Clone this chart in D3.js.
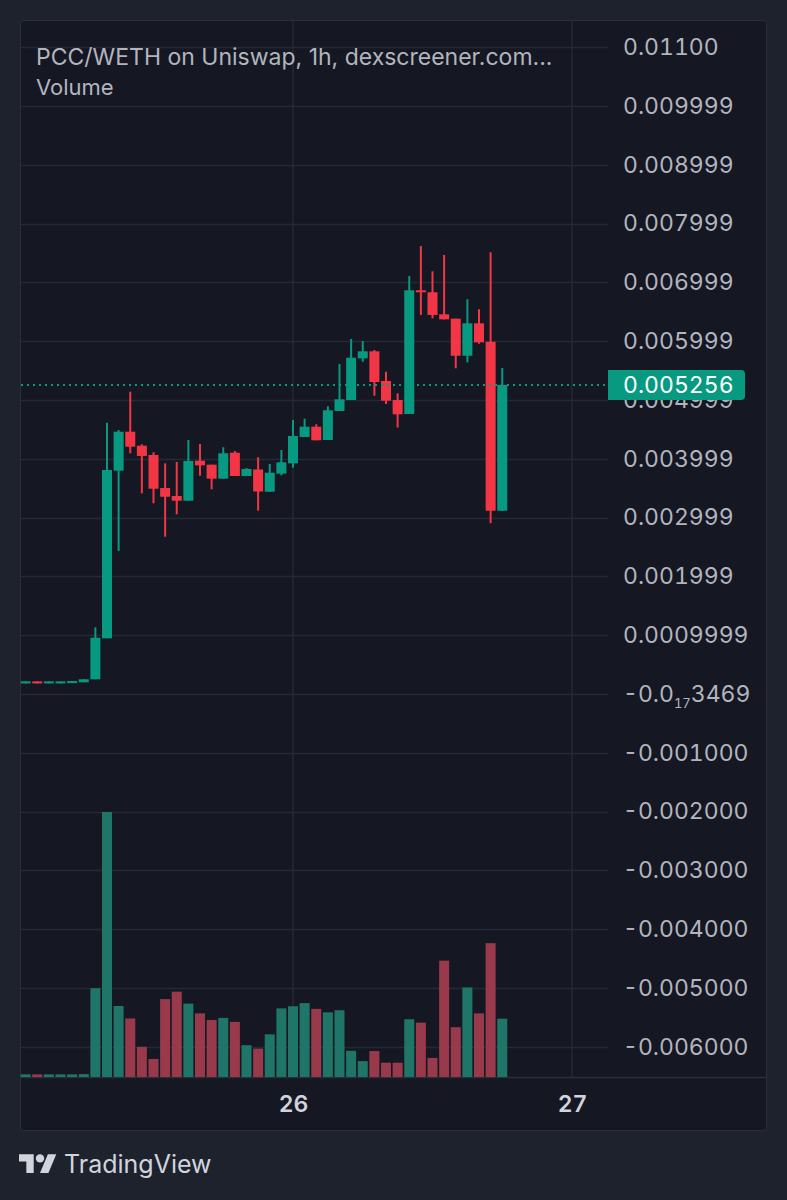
<!DOCTYPE html>
<html>
<head>
<meta charset="utf-8">
<script src="https://cdn.jsdelivr.net/npm/d3@7"></script>
<style>
  html, body { margin: 0; padding: 0; background: #1e222d; }
  svg { display: block; }
  text { font-family: "Inter", "Roboto", sans-serif; }
  .num { font-variant-numeric: tabular-nums; font-feature-settings: "tnum" 1; }
</style>
</head>
<body>
<div id="chart"></div>
<script>
// hourly candles, PCC/WETH, first one is 25th 01:00
var startHour = Date.UTC(2024, 5, 25, 1);

var opens = [0.000180, 0.000215, 0.000180, 0.000180, 0.000185, 0.000199, 0.000250, 0.000947, 0.003798, 0.004461,
  0.004223, 0.004065, 0.003503, 0.003367, 0.003287, 0.003968, 0.003900, 0.003662, 0.004104, 0.003707,
  0.003818, 0.003440, 0.003747, 0.003923, 0.004371, 0.004546, 0.004320, 0.004813, 0.005000, 0.005709,
  0.005828, 0.005323, 0.005000, 0.004762, 0.006866, 0.006832, 0.006457, 0.006383, 0.005753, 0.006304,
  0.005991, 0.003117];
var highs = [0.000215, 0.000215, 0.000215, 0.000215, 0.000220, 0.000255, 0.001134, 0.004614, 0.004490, 0.005141,
  0.004247, 0.004111, 0.003923, 0.003946, 0.004320, 0.004252, 0.003900, 0.004196, 0.004133, 0.003844,
  0.004026, 0.003912, 0.004150, 0.004660, 0.004682, 0.004587, 0.004893, 0.005612, 0.006037, 0.006003,
  0.005850, 0.005481, 0.005114, 0.007109, 0.007619, 0.007189, 0.007466, 0.006383, 0.006713, 0.006543,
  0.007512, 0.005544];
var lows = [0.000180, 0.000180, 0.000180, 0.000180, 0.000185, 0.000199, 0.000250, 0.000947, 0.002432, 0.004094,
  0.003413, 0.003243, 0.002675, 0.003056, 0.003287, 0.003713, 0.003481, 0.003662, 0.003707, 0.003707,
  0.003117, 0.003440, 0.003719, 0.003849, 0.004371, 0.004315, 0.004320, 0.004813, 0.005000, 0.005651,
  0.005073, 0.004932, 0.004532, 0.004762, 0.006446, 0.006389, 0.006372, 0.005539, 0.005641, 0.005957,
  0.002903, 0.003117];
var closes = [0.000215, 0.000180, 0.000215, 0.000215, 0.000220, 0.000250, 0.000957, 0.003810, 0.004461, 0.004206,
  0.004048, 0.003491, 0.003355, 0.003287, 0.003963, 0.003889, 0.003662, 0.004094, 0.003707, 0.003827,
  0.003444, 0.003764, 0.003940, 0.004388, 0.004546, 0.004315, 0.004825, 0.005012, 0.005719, 0.005828,
  0.005306, 0.004988, 0.004757, 0.006866, 0.006832, 0.006446, 0.006372, 0.005753, 0.006304, 0.005981,
  0.003117, 0.005256];
var volumes = [1.0, 1.0, 1.0, 1.0, 1.0, 1.1, 33.5, 100, 26.8, 22.1,
  11.4, 6.8, 29.4, 32.2, 27.7, 24.0, 21.5, 22.3, 20.8, 12.0,
  10.7, 16.1, 25.9, 26.7, 27.9, 25.7, 24.4, 25.2, 9.9, 6.0,
  9.8, 5.4, 5.4, 21.8, 20.5, 7.2, 43.9, 18.8, 33.8, 24.0,
  50.5, 22.0];

var priceTicks = [0.011, 0.01, 0.009, 0.008, 0.007, 0.006, 0.005, 0.004, 0.003, 0.002, 0.001, 0,
  -0.001, -0.002, -0.003, -0.004, -0.005, -0.006];
var priceTickLabels = ["0.01100", "0.009999", "0.008999", "0.007999", "0.006999", "0.005999", "0.004999",
  "0.003999", "0.002999", "0.001999", "0.0009999", "-0.0|17|3469", "-0.001000", "-0.002000", "-0.003000",
  "-0.004000", "-0.005000", "-0.006000"];
var dayTicks = [Date.UTC(2024, 5, 26), Date.UTC(2024, 5, 27)];
var lastPrice = 0.005256;
var title = "PCC/WETH on Uniswap, 1h, dexscreener.com...";

var W = 787, H = 1200;
var pane = { left: 20, right: 608, top: 20, bottom: 1077 };
var frame = { left: 20, right: 766, top: 20, bottom: 1130 };
var upColor = "#089981", downColor = "#f23645";
var upVol = "#1f7567", downVol = "#983a4c";

var svg = d3.select("#chart").append("svg")
  .attr("width", W)
  .attr("height", H);

svg.append("rect").attr("width", W).attr("height", H).attr("fill", "#1e222d");

svg.append("rect")
  .attr("x", frame.left + 0.5).attr("y", frame.top + 0.5)
  .attr("width", frame.right - frame.left).attr("height", frame.bottom - frame.top)
  .attr("rx", 3)
  .attr("fill", "#151823")
  .attr("stroke", "#2b2f3a");

var times = opens.map(function(d, i) { return new Date(startHour + i * 3600e3); });

var x = d3.scaleTime()
  .domain([new Date(Date.UTC(2024, 5, 25)), new Date(Date.UTC(2024, 5, 27))])
  .range([293 - 24 * 11.625, 572]);
var y = d3.scaleLinear().domain([-0.006, 0.011]).range([1046.8, 47.2]);
var yVol = d3.scaleLinear().domain([0, 100]).range([pane.bottom, 812]);

// grid
var grid = svg.append("g");
grid.selectAll("line.h")
  .data(priceTicks)
  .enter().append("line")
  .attr("class", "h")
  .attr("x1", pane.left + 1).attr("x2", pane.right)
  .attr("y1", function(d) { return Math.round(y(d)) + 0.5; })
  .attr("y2", function(d) { return Math.round(y(d)) + 0.5; })
  .attr("stroke", "#252935").attr("stroke-width", 1.5);
grid.selectAll("line.v")
  .data(dayTicks)
  .enter().append("line")
  .attr("class", "v")
  .attr("x1", function(d) { return x(new Date(d)); })
  .attr("x2", function(d) { return x(new Date(d)); })
  .attr("y1", frame.top + 1).attr("y2", pane.bottom)
  .attr("stroke", "#252935").attr("stroke-width", 1.5);

// pane / time axis separator
svg.append("line")
  .attr("x1", frame.left + 1).attr("x2", frame.right)
  .attr("y1", pane.bottom + 0.5).attr("y2", pane.bottom + 0.5)
  .attr("stroke", "#2b2f3a").attr("stroke-width", 1.5);

// volume
var bw = 10;
svg.append("g").selectAll("rect")
  .data(volumes)
  .enter().append("rect")
  .attr("x", function(d, i) { return x(times[i]) - bw / 2; })
  .attr("y", function(d) { return yVol(d); })
  .attr("width", bw)
  .attr("height", function(d) { return pane.bottom - yVol(d); })
  .attr("fill", function(d, i) { return closes[i] >= opens[i] ? upVol : downVol; });

// candles
var candles = svg.append("g").selectAll("g")
  .data(opens)
  .enter().append("g");
candles.append("line")
  .attr("x1", function(d, i) { return x(times[i]); })
  .attr("x2", function(d, i) { return x(times[i]); })
  .attr("y1", function(d, i) { return y(highs[i]); })
  .attr("y2", function(d, i) { return y(lows[i]); })
  .attr("stroke-width", 2)
  .attr("stroke", function(d, i) { return closes[i] >= opens[i] ? upColor : downColor; });
candles.append("rect")
  .attr("x", function(d, i) { return x(times[i]) - bw / 2; })
  .attr("y", function(d, i) { return y(Math.max(opens[i], closes[i])); })
  .attr("width", bw)
  .attr("height", function(d, i) { return Math.max(2, Math.abs(y(opens[i]) - y(closes[i]))); })
  .attr("fill", function(d, i) { return closes[i] >= opens[i] ? upColor : downColor; });

// last price dotted line
svg.append("line")
  .attr("x1", pane.left + 1).attr("x2", pane.right)
  .attr("y1", y(lastPrice)).attr("y2", y(lastPrice))
  .attr("stroke", upColor).attr("stroke-width", 2)
  .attr("stroke-dasharray", "2,4");

// price axis
var yAxis = d3.axisRight(y)
  .tickValues(priceTicks)
  .tickSize(0)
  .tickPadding(15)
  .tickFormat(function(d, i) { return priceTickLabels[i]; });
var ya = svg.append("g")
  .attr("transform", "translate(" + pane.right + ",0)")
  .call(yAxis);
ya.select(".domain").remove();
ya.selectAll("text")
  .attr("class", "num")
  .attr("fill", "#b2b5be")
  .attr("font-size", 23)
  .attr("font-family", "Inter, Roboto, sans-serif");
ya.selectAll("text").each(function(d, i) {
  var parts = priceTickLabels[i].split("|");
  if (parts.length < 3) return;
  var t = d3.select(this).text(null);
  t.append("tspan").text(parts[0]);
  t.append("tspan").attr("font-size", 13).attr("dy", 6).text(parts[1]);
  t.append("tspan").attr("dy", -6).text(parts[2]);
});

// last price label
var ly = y(lastPrice);
svg.append("path")
  .attr("d", "M" + pane.right + "," + (ly - 15) + "h133a4,4 0 0 1 4,4v22a4,4 0 0 1 -4,4h-133z")
  .attr("fill", upColor);
svg.append("text")
  .attr("class", "num")
  .attr("x", pane.right + 15).attr("y", ly)
  .attr("dy", "0.35em")
  .attr("fill", "#ffffff")
  .attr("font-size", 23)
  .text(d3.format(".6f")(lastPrice));

// time axis
var xAxis = d3.axisBottom(x)
  .tickValues(dayTicks.map(function(d) { return new Date(d); }))
  .tickSize(0)
  .tickPadding(19)
  .tickFormat(d3.utcFormat("%d"));
var xa = svg.append("g")
  .attr("transform", "translate(0," + pane.bottom + ")")
  .call(xAxis);
xa.select(".domain").remove();
xa.selectAll("text")
  .attr("class", "num")
  .attr("fill", "#d1d4dc")
  .attr("font-size", 23)
  .attr("font-weight", 600)
  .attr("font-family", "Inter, Roboto, sans-serif");

// legend
svg.append("text")
  .attr("x", 36).attr("y", 65)
  .attr("fill", "#b2b5be")
  .attr("font-size", 23)
  .text(title);
svg.append("text")
  .attr("x", 36).attr("y", 95)
  .attr("fill", "#b2b5be")
  .attr("font-size", 22)
  .text("Volume");

// TradingView logo
var logo = svg.append("g")
  .attr("transform", "translate(19,1150) scale(1.05)")
  .attr("fill", "#d1d4dc");
logo.append("path").attr("d", "M14 22H7V11H0V4h14v18zM28 22h-8l7.5-18h8L28 22z");
logo.append("circle").attr("cx", 20).attr("cy", 8).attr("r", 4);
svg.append("text")
  .attr("x", 64).attr("y", 1173)
  .attr("fill", "#d1d4dc")
  .attr("font-size", 25)
  .text("TradingView");
</script>
</body>
</html>
